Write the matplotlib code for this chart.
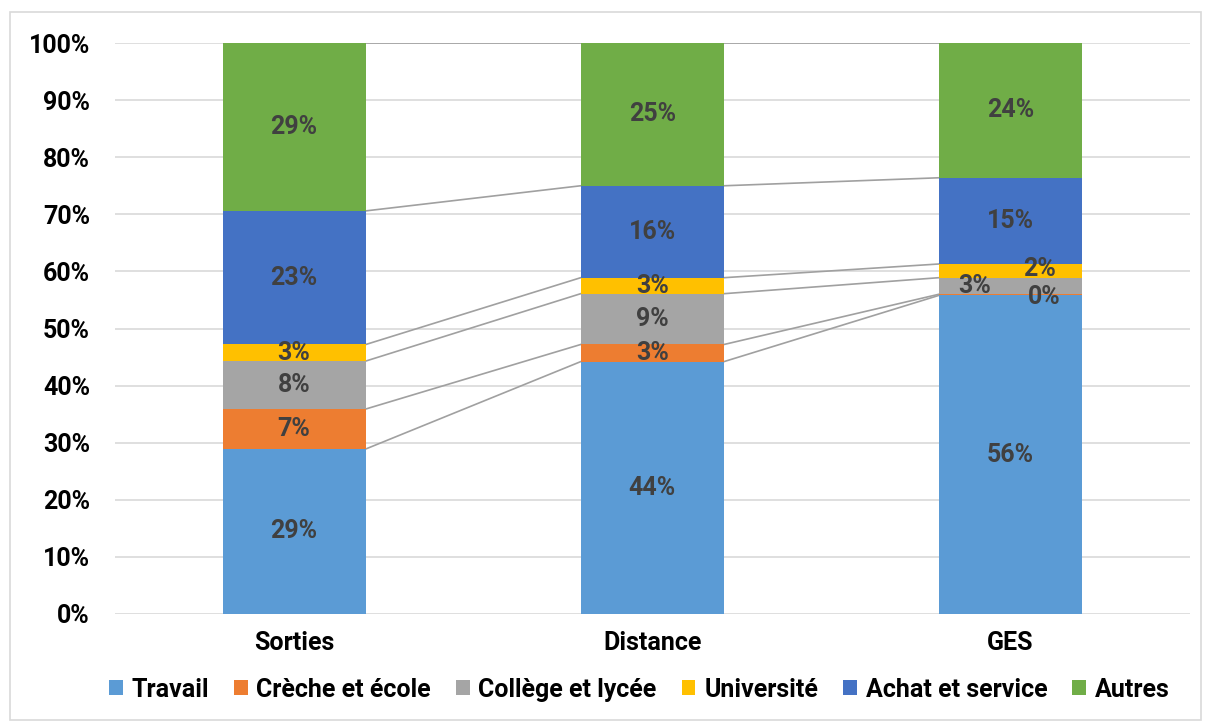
import matplotlib.pyplot as plt
from matplotlib.patches import Rectangle

categories = ['Sorties', 'Distance', 'GES']
series = ['Travail', 'Crèche et école', 'Collège et lycée', 'Université', 'Achat et service', 'Autres']
travail = [28.9, 44.2, 55.8]
creche = [7.0, 3.0, 0.2]
college = [8.4, 8.9, 2.9]
universite = [2.9, 2.8, 2.4]
achat = [23.4, 16.1, 15.1]
autres = [29.4, 25.0, 23.6]

values = [travail, creche, college, universite, achat, autres]
colors = ['#5b9bd5', '#ed7d31', '#a5a5a5', '#ffc000', '#4472c4', '#70ad47']

# label nudges (pixels) for the crowded GES bar
nudge = {(2, 1): (34, -2), (2, 2): (-36, 0), (2, 3): (29, 2)}

plt.rcParams['font.family'] = ['Roboto', 'DejaVu Sans']
plt.rcParams['font.weight'] = 'bold'
fs = 18

fig = plt.figure(figsize=(12.06, 7.22), dpi=100)
ax = fig.add_axes([0.0954, 0.1496, 0.891, 0.7908])

width = 0.4
x = list(range(len(categories)))
bottoms = [0.0] * len(categories)
tops_all = []
for s, (name, vals, col) in enumerate(zip(series, values, colors)):
    ax.bar(x, vals, width, bottom=bottoms, color=col, label=name, zorder=3)
    for i, v in enumerate(vals):
        dx, dy = nudge.get((i, s), (0, 0))
        ax.annotate('%d%%' % round(v), (x[i], bottoms[i] + v / 2),
                    xytext=(dx * 0.72, dy * 0.72), textcoords='offset points',
                    ha='center', va='center', fontsize=fs, fontweight='bold',
                    color='#404040', zorder=5)
    bottoms = [b + v for b, v in zip(bottoms, vals)]
    tops_all.append(list(bottoms))

# series lines between bars
for tops in tops_all:
    for i in range(len(categories) - 1):
        ax.plot([x[i] + width / 2, x[i + 1] - width / 2], [tops[i], tops[i + 1]],
                color='#a0a0a0', lw=1.2, zorder=2)

ax.set_xlim(-0.5, 2.5)
ax.set_ylim(0, 100)
ax.set_yticks(range(0, 101, 10))
ax.set_yticklabels(['%d%%' % t for t in range(0, 101, 10)], fontweight='bold')
ax.set_xticks(x)
ax.set_xticklabels(categories, fontweight='bold')
ax.tick_params(length=0, labelsize=fs)
ax.tick_params(axis='x', pad=12)
ax.tick_params(axis='y', pad=18)
ax.grid(axis='y', color='#d9d9d9', lw=1.2, zorder=0)
for sp in ax.spines.values():
    sp.set_visible(False)

fig.legend(loc='center', bbox_to_anchor=(0.530, 0.045), ncol=6, frameon=False,
           handlelength=0.55, handleheight=0.55, handletextpad=0.35,
           columnspacing=1.0, prop={'weight': 'bold', 'size': fs})

fig.add_artist(Rectangle((0.008, 0.003), 0.988, 0.98, transform=fig.transFigure,
                         fill=False, edgecolor='#d9d9d9', lw=1.2))

fig.savefig('out.png', dpi=100)
